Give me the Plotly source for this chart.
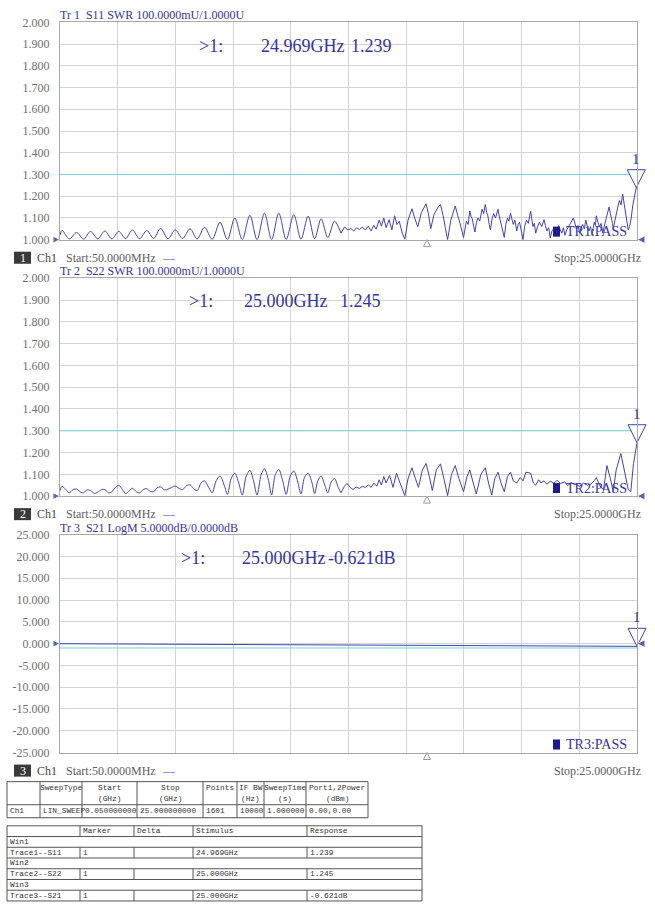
import plotly.graph_objects as go

W, H = 655, 909
FONT = "Liberation Serif"
TABLE_FONT = "Liberation Mono"
TRACE_BLUE = "#4141ba"
TEXT_BLUE = "#3434a8"
DARK_BLUE = "#1c1c8c"
LIMIT_CYAN = "#74d3d3"
GRID = "#d4d4d4"
FRAME = "#a8a8a8"
LABEL_GRAY = "#6e6e6e"

START_GHZ, STOP_GHZ = 0.05, 25.0
SMOOTH_UNTIL_GHZ = 12.2   # regular ripple part is drawn smooth, the noisy rest as is

# ---- trace data ----
S11_FREQ = [
    0.05, 0.14, 0.45, 0.77, 1.07, 1.37, 1.68, 1.99, 2.29, 2.59,
    2.89, 3.18, 3.49, 3.80, 4.10, 4.40, 4.72, 5.03, 5.35, 5.67,
    5.98, 6.30, 6.63, 6.97, 7.29, 7.61, 7.93, 8.26, 8.57, 8.89,
    9.20, 9.51, 9.83, 10.16, 10.47, 10.78, 11.06, 11.34, 11.63, 11.92,
    12.20,
    12.35, 12.50, 12.62, 12.75, 12.88, 13.00, 13.12, 13.25, 13.38, 13.50,
    13.62, 13.72, 13.85, 13.95, 14.05, 14.15, 14.28, 14.40, 14.52, 14.62,
    14.72, 14.85, 14.96, 15.10, 15.27, 15.40, 15.52, 15.68, 15.88, 15.98,
    16.08, 16.22, 16.40, 16.50, 16.62, 16.72, 16.81, 16.95, 17.05, 17.14,
    17.25, 17.35,
    17.50, 17.56, 17.62, 17.70, 17.77, 17.83, 17.88, 17.94, 17.99, 18.06,
    18.12, 18.20, 18.30, 18.37, 18.44, 18.50, 18.55, 18.61, 18.66, 18.73,
    18.80, 18.88, 18.99, 19.04, 19.10, 19.18, 19.26, 19.33, 19.40, 19.46,
    19.53, 19.59, 19.65, 19.72, 19.80, 19.86, 19.92, 20.00, 20.07, 20.14,
    20.22, 20.30, 20.40, 20.45, 20.50, 20.56, 20.62, 20.70, 20.78, 20.88,
    20.98, 21.04, 21.10, 21.18, 21.25, 21.32, 21.40, 21.50, 21.61, 21.68,
    21.75, 21.82, 21.88, 21.96, 22.05, 22.15, 22.25, 22.31, 22.38, 22.45,
    22.52, 22.58, 22.65, 22.72, 22.79, 22.85, 22.92, 22.99, 23.06, 23.10,
    23.15, 23.20, 23.24, 23.31, 23.38, 23.45, 23.52, 23.58, 23.65, 23.72,
    23.79, 23.85, 23.90, 23.94, 23.97, 24.04, 24.10, 24.17, 24.24, 24.31,
    24.38, 24.43, 24.47, 24.55, 24.62, 24.68, 24.75, 24.82, 24.88, 24.969,
    25.00,
]
S11_SWR = [
    1.020, 1.043, 1.003, 1.033, 1.002, 1.038, 1.004, 1.040, 1.003, 1.038,
    1.005, 1.045, 1.004, 1.042, 1.006, 1.052, 1.004, 1.045, 1.005, 1.050,
    1.003, 1.057, 1.001, 1.080, 1.000, 1.100, 1.000, 1.112, 1.000, 1.122,
    1.000, 1.122, 1.001, 1.115, 1.002, 1.108, 1.004, 1.096, 1.010, 1.085,
    1.030,
    1.058, 1.044, 1.052, 1.040, 1.055, 1.046, 1.058, 1.044, 1.062, 1.040,
    1.066, 1.048, 1.090, 1.062, 1.100, 1.055, 1.092, 1.045, 1.110, 1.070,
    1.085, 1.030, 1.002, 1.090, 1.142, 1.095, 1.060, 1.125, 1.165, 1.120,
    1.050, 1.115, 1.150, 1.162, 1.110, 1.050, 1.000, 1.090, 1.130, 1.155,
    1.110, 1.075,
    1.010, 1.060, 1.085, 1.070, 1.132, 1.105, 1.095, 1.060, 1.035, 1.080,
    1.100, 1.085, 1.140, 1.120, 1.162, 1.125, 1.110, 1.070, 1.045, 1.095,
    1.120, 1.100, 1.140, 1.110, 1.080, 1.050, 1.010, 1.070, 1.100, 1.085,
    1.122, 1.095, 1.070, 1.090, 1.040, 1.070, 1.080, 1.040, 1.000, 1.060,
    1.090, 1.075, 1.132, 1.095, 1.060, 1.075, 1.030, 1.060, 1.080, 1.060,
    1.092, 1.065, 1.040, 1.055, 1.008, 1.040, 1.050, 1.030, 1.065, 1.045,
    1.030, 1.055, 1.020, 1.045, 1.060, 1.080, 1.100, 1.070, 1.050, 1.065,
    1.030, 1.055, 1.070, 1.050, 1.090, 1.060, 1.040, 1.060, 1.020, 1.050,
    1.080, 1.065, 1.110, 1.080, 1.060, 1.075, 1.030, 1.060, 1.090, 1.120,
    1.150, 1.120, 1.100, 1.075, 1.050, 1.090, 1.120, 1.150, 1.180, 1.160,
    1.210, 1.175, 1.140, 1.080, 1.045, 1.060, 1.100, 1.160, 1.200, 1.239,
    1.236,
]

S22_FREQ = [
    0.05, 0.14, 0.30, 0.45, 0.62, 0.77, 0.95, 1.07, 1.20, 1.37,
    1.55, 1.68, 1.85, 1.99, 2.15, 2.29, 2.45, 2.59, 2.75, 2.89,
    3.05, 3.18, 3.35, 3.49, 3.65, 3.80, 3.95, 4.10, 4.25, 4.40,
    4.58, 4.72, 4.88, 5.03, 5.20, 5.35, 5.52, 5.67, 5.82, 5.98,
    6.15, 6.30, 6.48, 6.63, 6.80, 6.97, 7.15, 7.29, 7.45, 7.61,
    7.78, 7.93, 8.10, 8.26, 8.42, 8.57, 8.75, 8.89, 9.05, 9.20,
    9.35, 9.51, 9.68, 9.83, 10.00, 10.16, 10.32, 10.47, 10.62, 10.78,
    10.95, 11.06, 11.20, 11.34, 11.50, 11.63, 11.78, 11.92, 12.08, 12.20,
    12.35, 12.46, 12.60, 12.72, 12.85, 13.00, 13.12, 13.25, 13.38, 13.50,
    13.62, 13.75, 13.85, 13.95, 14.05, 14.15, 14.30, 14.45, 14.60, 14.72,
    14.85, 14.96, 15.10, 15.27, 15.42, 15.55, 15.72, 15.88, 16.02, 16.15,
    16.32, 16.50, 16.65, 16.81, 16.98, 17.14, 17.30, 17.50, 17.65, 17.77,
    17.92, 18.05, 18.25, 18.44, 18.58, 18.72, 18.85, 18.99, 19.12, 19.26,
    19.40, 19.53, 19.65, 19.80, 19.95, 20.07, 20.20, 20.40, 20.52, 20.62,
    20.75, 20.85, 20.98, 21.10, 21.25, 21.40, 21.55, 21.70, 21.88, 22.00,
    22.15, 22.30, 22.52, 22.70, 22.85, 23.00, 23.15, 23.24, 23.40, 23.55,
    23.70, 23.85, 23.97, 24.10, 24.30, 24.45, 24.62, 24.73, 24.85, 25.00,
]
S22_SWR = [
    1.025, 1.045, 1.030, 1.015, 1.030, 1.032, 1.018, 1.015, 1.028, 1.025,
    1.012, 1.018, 1.030, 1.030, 1.015, 1.020, 1.040, 1.050, 1.030, 1.012,
    1.025, 1.036, 1.020, 1.015, 1.030, 1.034, 1.022, 1.020, 1.038, 1.042,
    1.028, 1.032, 1.040, 1.046, 1.035, 1.030, 1.048, 1.052, 1.035, 1.025,
    1.060, 1.070, 1.040, 1.015, 1.070, 1.092, 1.050, 1.008, 1.080, 1.105,
    1.060, 1.005, 1.090, 1.118, 1.070, 1.005, 1.100, 1.125, 1.080, 1.005,
    1.095, 1.122, 1.070, 1.008, 1.090, 1.115, 1.070, 1.010, 1.085, 1.105,
    1.060, 1.012, 1.070, 1.092, 1.050, 1.015, 1.065, 1.080, 1.040, 1.015,
    1.045, 1.058, 1.040, 1.030, 1.042, 1.035, 1.045, 1.040, 1.052, 1.040,
    1.060, 1.045, 1.075, 1.050, 1.090, 1.060, 1.095, 1.040, 1.105, 1.070,
    1.030, 1.002, 1.080, 1.130, 1.080, 1.040, 1.120, 1.150, 1.090, 1.025,
    1.120, 1.148, 1.080, 1.002, 1.100, 1.140, 1.080, 1.020, 1.090, 1.120,
    1.060, 1.010, 1.100, 1.130, 1.060, 1.005, 1.080, 1.110, 1.060, 1.020,
    1.090, 1.110, 1.070, 1.060, 1.085, 1.070, 1.110, 1.105, 1.060, 1.050,
    1.075, 1.060, 1.070, 1.055, 1.068, 1.060, 1.072, 1.058, 1.065, 1.048,
    1.062, 1.055, 1.045, 1.060, 1.050, 1.055, 1.070, 1.085, 1.045, 1.030,
    1.140, 1.080, 1.020, 1.120, 1.195, 1.120, 1.030, 1.020, 1.150, 1.245,
]

S21_FREQ = [
    0.05, 1.0, 2.0, 3.0, 4.0, 5.0, 6.0, 7.0, 8.0, 9.0,
    9.9, 10.0, 11.0, 12.0, 13.0, 14.0, 15.0, 16.0, 17.0, 18.0,
    19.0, 20.0, 21.0, 22.0, 23.0, 24.0, 24.5, 25.0,
]
S21_DB = [
    -0.02, -0.04, -0.06, -0.08, -0.10, -0.11, -0.12, -0.14, -0.15, -0.17,
    -0.18, -0.32, -0.34, -0.36, -0.38, -0.40, -0.42, -0.44, -0.46, -0.48,
    -0.50, -0.52, -0.53, -0.55, -0.57, -0.58, -0.60, -0.621,
]

assert len(S11_FREQ) == len(S11_SWR)
assert len(S22_FREQ) == len(S22_SWR)
assert len(S21_FREQ) == len(S21_DB)

SWR_TICKS = ["1.000", "1.100", "1.200", "1.300", "1.400", "1.500",
             "1.600", "1.700", "1.800", "1.900", "2.000"]
LOGM_TICKS = ["-25.000", "-20.000", "-15.000", "-10.000", "-5.000", "0.000",
              "5.000", "10.000", "15.000", "20.000", "25.000"]

MARKER_FREQ = [24.969, 25.000, 25.000]
MARKER_VALUE = [1.239, 1.245, -0.621]
MARKER_FREQ_TEXT = ["24.969GHz", "25.000GHz", "25.000GHz"]
MARKER_VALUE_TEXT = ["1.239", "1.245", "-0.621dB"]
LIMIT_VALUE = [1.300, 1.300, -1.000]
REF_LEVEL = [1.000, 1.000, 0.000]
REF_POS_FREQ = 15.92

TRACE_TITLES = [
    "Tr 1\u00a0\u00a0S11 SWR 100.0000mU/1.0000U",
    "Tr 2\u00a0\u00a0S22 SWR 100.0000mU/1.0000U",
    "Tr 3\u00a0\u00a0S21 LogM 5.0000dB/0.0000dB",
]
PASS_TEXT = ["TR1:PASS", "TR2:PASS", "TR3:PASS"]
START_TEXT = "Start:50.0000MHz"
STOP_TEXT = "Stop:25.0000GHz"

SWEEP_HEAD = ["", "SweepType", "Start", "Stop", "Points", "IF BW", "SweepTime", "Port1,2Power"]
SWEEP_UNIT = ["", "", "(GHz)", "(GHz)", "", "(Hz)", "(s)", "(dBm)"]
SWEEP_ROW = ["Ch1", "LIN_SWEEP", "0.050000000", "25.000000000", "1601", "10000", "1.000000", "0.00,0.00"]

MARKER_HEAD = ["", "Marker", "Delta", "Stimulus", "Response"]
MARKER_ROWS = [
    ["Win1"],
    ["Trace1--S11", "1", "", "24.969GHz", "1.239"],
    ["Win2"],
    ["Trace2--S22", "1", "", "25.000GHz", "1.245"],
    ["Win3"],
    ["Trace3--S21", "1", "", "25.000GHz", "-0.621dB"],
]

# ---- layout geometry (pixels of the 655x909 screen) ----
PLOT_LEFT, PLOT_RIGHT = 60, 637
PLOT_ROWS = [(23.5, 240), (278.5, 495.5), (534, 751)]
READOUT_X = [(198, 260, 350), (188, 243, 339), (180, 241, 327)]
READOUT_Y = [47, 301, 557]

# the captured page comes out slightly squeezed vertically; map screen y back
Y_SCALE, Y_OFFSET = 0.981, 8.2


def fx(x):
    return x / W


def fy(y):
    return 1 - ((y - Y_OFFSET) / Y_SCALE) / H


fig = go.Figure()


def text(x, y, s, size=12, color="#333333", anchor="left", family=FONT):
    fig.add_annotation(
        xref="paper", yref="paper", x=fx(x), y=fy(y), text=s, showarrow=False,
        xanchor=anchor, yanchor="middle", borderpad=0,
        font=dict(family=family, size=size, color=color),
    )


def line(x0, y0, x1, y1, color="#555555", width=1):
    fig.add_shape(type="line", xref="paper", yref="paper",
                  x0=fx(x0), y0=fy(y0), x1=fx(x1), y1=fy(y1),
                  line=dict(color=color, width=width))


def rect(x0, y0, x1, y1, color):
    fig.add_shape(type="rect", xref="paper", yref="paper",
                  x0=fx(x0), y0=fy(y0), x1=fx(x1), y1=fy(y1),
                  line=dict(width=0), fillcolor=color)


panels = [
    dict(freq=S11_FREQ, vals=S11_SWR, ticks=SWR_TICKS, yr=[1.0, 2.0], smooth=True),
    dict(freq=S22_FREQ, vals=S22_SWR, ticks=SWR_TICKS, yr=[1.0, 2.0], smooth=True),
    dict(freq=S21_FREQ, vals=S21_DB, ticks=LOGM_TICKS, yr=[-25.0, 25.0], smooth=False),
]

for i, p in enumerate(panels):
    n = "" if i == 0 else str(i + 1)
    xa, ya = "x" + n, "y" + n
    top, bottom = PLOT_ROWS[i]

    fig.update_layout({
        "xaxis" + n: dict(
            domain=[fx(PLOT_LEFT), fx(PLOT_RIGHT)], anchor=ya,
            range=[START_GHZ, STOP_GHZ], tick0=START_GHZ,
            dtick=(STOP_GHZ - START_GHZ) / 10, showticklabels=False, ticks="",
            showgrid=True, gridcolor=GRID, gridwidth=1, zeroline=False,
            showline=True, linecolor=FRAME, linewidth=1, mirror=True, fixedrange=True,
        ),
        "yaxis" + n: dict(
            domain=[fy(bottom), fy(top)], anchor=xa, range=p["yr"],
            tickvals=[float(t) for t in p["ticks"]], ticktext=p["ticks"],
            ticks="", ticklabelstandoff=7,
            tickfont=dict(family=FONT, size=12, color=LABEL_GRAY),
            showgrid=True, gridcolor=GRID, gridwidth=1, zeroline=False,
            showline=True, linecolor=FRAME, linewidth=1, mirror=True, fixedrange=True,
        ),
    })

    # limit line
    fig.add_trace(go.Scatter(
        x=[START_GHZ, STOP_GHZ], y=[LIMIT_VALUE[i]] * 2, xaxis=xa, yaxis=ya,
        mode="lines", line=dict(color=LIMIT_CYAN, width=1), hoverinfo="skip",
    ))
    # marker 1 triangle (tip on the trace) with its number above
    fig.add_trace(go.Scatter(
        x=[MARKER_FREQ[i]], y=[MARKER_VALUE[i]], xaxis=xa, yaxis=ya, mode="markers",
        marker=dict(symbol="arrow-down", size=18, color="white",
                    line=dict(color=TRACE_BLUE, width=1)),
        cliponaxis=False, hoverinfo="skip",
    ))
    fig.add_annotation(
        xref=xa, yref=ya, x=MARKER_FREQ[i], y=MARKER_VALUE[i], text="1",
        showarrow=False, yshift=29, xanchor="center", yanchor="middle",
        font=dict(family=FONT, size=15, color=TEXT_BLUE),
    )

    # measured trace: smooth ripple part + raw noisy part
    freq, vals = p["freq"], p["vals"]
    if p["smooth"]:
        k = freq.index(SMOOTH_UNTIL_GHZ)
        parts = [(freq[:k + 1], vals[:k + 1], "spline"), (freq[k:], vals[k:], "linear")]
    else:
        parts = [(freq, vals, "linear")]
    for fxs, vys, shape in parts:
        fig.add_trace(go.Scatter(
            x=fxs, y=vys, xaxis=xa, yaxis=ya, mode="lines",
            line=dict(color=TRACE_BLUE, width=1, shape=shape, smoothing=0.9),
            hoverinfo="skip",
        ))

    # reference level pointers at both ends
    fig.add_trace(go.Scatter(
        x=[START_GHZ, STOP_GHZ], y=[REF_LEVEL[i]] * 2, xaxis=xa, yaxis=ya,
        mode="markers", cliponaxis=False, hoverinfo="skip",
        marker=dict(symbol=["arrow-right", "arrow-left"], size=[7, 8], color=DARK_BLUE),
    ))
    # reference position pointer
    fig.add_trace(go.Scatter(
        x=[REF_POS_FREQ], y=[p["yr"][0]], xaxis=xa, yaxis=ya, mode="markers",
        cliponaxis=False, hoverinfo="skip",
        marker=dict(symbol="arrow-up-open", size=7, color="#9a9a9a",
                    line=dict(color="#9a9a9a", width=1)),
    ))

    # trace title
    text(PLOT_LEFT - 1, top - 7, TRACE_TITLES[i], size=12, color=TEXT_BLUE)

    # marker readout
    rx = READOUT_X[i]
    text(rx[0], READOUT_Y[i], ">1:", size=18, color=TEXT_BLUE)
    text(rx[1], READOUT_Y[i], MARKER_FREQ_TEXT[i], size=18, color=TEXT_BLUE)
    text(rx[2], READOUT_Y[i], MARKER_VALUE_TEXT[i], size=18, color=TEXT_BLUE)

    # limit test result
    rect(553, bottom - 13, 560, bottom - 3, DARK_BLUE)
    text(565, bottom - 8, PASS_TEXT[i], size=14, color=TEXT_BLUE)

    # channel status bar
    cy = bottom + 18
    rect(14, cy - 6, 31, cy + 6, "#3a3a3a")
    text(22.5, cy, str(i + 1), size=12, color="white", anchor="center")
    text(36, cy, "Ch1", size=12, color="#444444")
    text(65, cy, START_TEXT, size=12, color="#5e5e5e")
    text(161, cy, "\u2014", size=12, color=TRACE_BLUE)
    text(642, cy, STOP_TEXT, size=12, color="#5e5e5e", anchor="right")

# ---- sweep setup table ----
TS = 7.8
t1_cols = [7, 40, 82, 137, 203, 237, 264, 306, 368]
t1_top, t1_mid, t1_bot = 780, 803, 816
for y in (t1_top, t1_mid, t1_bot):
    line(t1_cols[0], y, t1_cols[-1], y)
for x in t1_cols:
    line(x, t1_top, x, t1_bot)
for c in range(len(SWEEP_HEAD)):
    x0, x1 = t1_cols[c], t1_cols[c + 1]
    text((x0 + x1) / 2, t1_top + 6.5, SWEEP_HEAD[c], size=TS, anchor="center", family=TABLE_FONT)
    text((x0 + x1) / 2, t1_top + 17, SWEEP_UNIT[c], size=TS, anchor="center", family=TABLE_FONT)
    text(x0 + 1.5, (t1_mid + t1_bot) / 2, SWEEP_ROW[c], size=TS, family=TABLE_FONT)

# ---- marker table ----
t2_cols = [7, 80, 134, 193, 307, 422]
t2_rows = [824 + 10.7 * k for k in range(len(MARKER_ROWS) + 2)]
for y in t2_rows:
    line(t2_cols[0], y, t2_cols[-1], y)
line(t2_cols[0], t2_rows[0], t2_cols[0], t2_rows[-1])
line(t2_cols[-1], t2_rows[0], t2_cols[-1], t2_rows[-1])
for c in range(len(MARKER_HEAD)):
    if c:
        line(t2_cols[c], t2_rows[0], t2_cols[c], t2_rows[1])
    text(t2_cols[c] + 1.5, (t2_rows[0] + t2_rows[1]) / 2, MARKER_HEAD[c], size=TS, family=TABLE_FONT)
for r, row in enumerate(MARKER_ROWS):
    y0, y1 = t2_rows[r + 1], t2_rows[r + 2]
    for c, cell in enumerate(row):
        if c and len(row) > 1:
            line(t2_cols[c], y0, t2_cols[c], y1)
        text(t2_cols[c] + 1.5, (y0 + y1) / 2, cell, size=TS, family=TABLE_FONT)

fig.update_layout(
    width=W, height=H, margin=dict(l=0, r=0, t=0, b=0),
    paper_bgcolor="white", plot_bgcolor="white", showlegend=False,
)

fig.write_html("out.html", config={"displayModeBar": False},
               post_script="document.body.style.margin='0';")
